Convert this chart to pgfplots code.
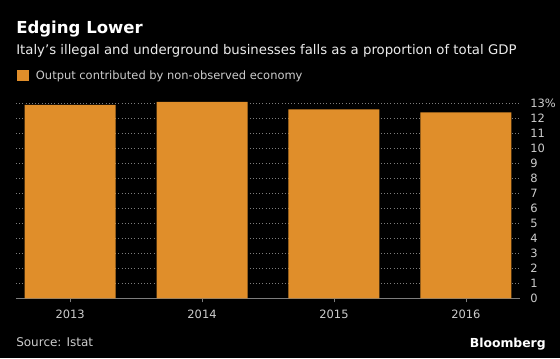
\documentclass[border=0pt]{standalone}
\usepackage{pgfplots}
\pgfplotsset{compat=1.18}
\usepackage{fontspec}
\setmainfont{DejaVu Sans}
\definecolor{barorange}{RGB}{224,142,42}
\definecolor{gridgray}{RGB}{125,125,125}
\definecolor{ticktext}{RGB}{205,205,205}
\definecolor{subtext}{RGB}{235,235,235}
\begin{document}
\begin{tikzpicture}[x=0.75pt,y=0.75pt]
\useasboundingbox (0,0) rectangle (560,358);
\fill[black] (0,0) rectangle (560,358);
\node[anchor=base west, inner sep=0, text=white, font=\fontsize{12.4}{15}\selectfont\bfseries] at (16,{358-33.3}) {Edging Lower};
\node[anchor=base west, inner sep=0, text=subtext, font=\fontsize{9.95}{12}\selectfont] at (16,{358-54.3}) {Italy’s illegal and underground businesses falls as a proportion of total GDP};
\fill[barorange] (17,{358-81}) rectangle (29,{358-70});
\node[anchor=base west, inner sep=0, text=ticktext, font=\fontsize{8.6}{11}\selectfont] at (35.7,{358-79}) {Output contributed by non-observed economy};
\node[anchor=base west, inner sep=0, text=ticktext, font=\fontsize{9}{11}\selectfont] at (16,{358-346.5}) {Source: Istat};
\node[anchor=base east, inner sep=0, text=white, font=\fontsize{9.3}{11}\selectfont\bfseries] at (546,{358-347.3}) {Bloomberg};
\begin{axis}[
  at={(12pt,44.775pt)}, anchor=south west,
  width=378pt, height=148.5pt, scale only axis,
  xmin=-0.41, xmax=3.41, ymin=0, ymax=13.2,
  separate axis lines,
  axis x line*=bottom, axis y line*=right,
  x axis line style={draw=gridgray, line width=0.6pt, -},
  y axis line style={draw=none},
  ytick={0,1,...,13},
  yticklabels={0,1,2,3,4,5,6,7,8,9,10,11,12,13\%},
  ytick style={draw=none},
  xtick={0,1,2,3},
  xticklabels={2013,2014,2015,2016},
  xtick style={draw=gridgray, line width=0.6pt},
  tick align=outside, major tick length=3pt,
  ymajorgrids, grid style={dotted, gridgray, line width=0.5pt},
  yticklabel style={anchor=west, inner sep=0pt, xshift=4.5pt, text=ticktext, font=\fontsize{8.6}{11}\selectfont},
  xticklabel style={anchor=base, inner sep=0pt, yshift=-12.5pt, text=ticktext, font=\fontsize{8.6}{11}\selectfont},
]
\addplot[ybar, bar width=68.25pt, fill=barorange, draw=none] coordinates {(0,12.9) (1,13.1) (2,12.6) (3,12.4)};
\end{axis}
\end{tikzpicture}
\end{document}
